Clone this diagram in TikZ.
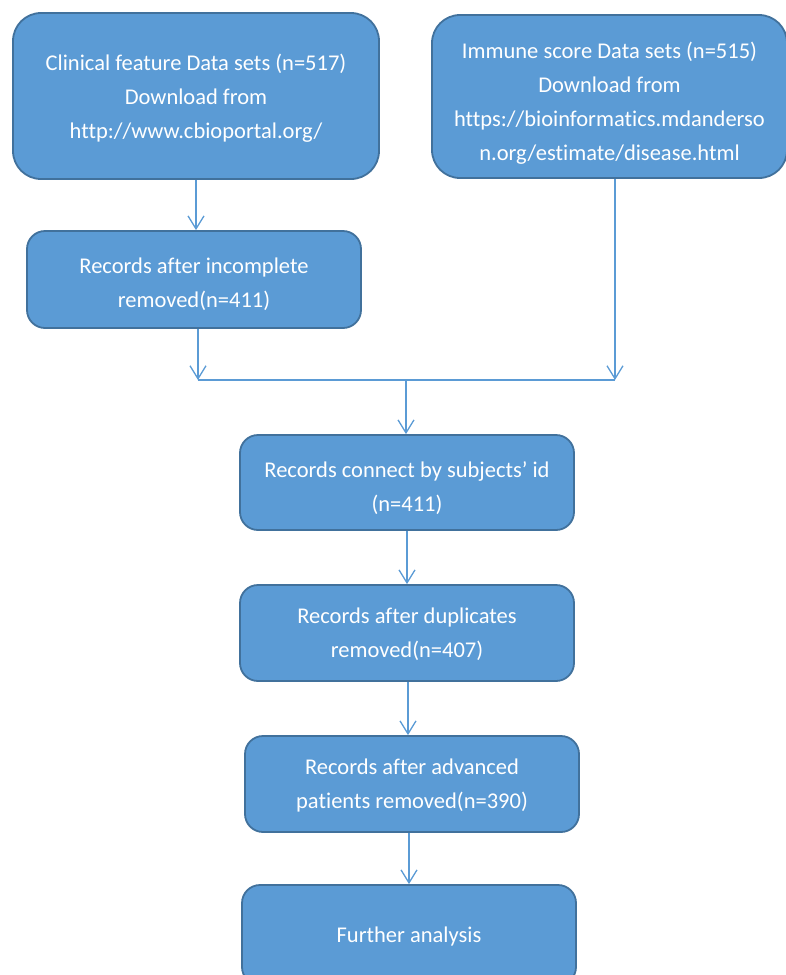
\documentclass[tikz,border=0pt]{standalone}
\usepackage{fontspec}
\setmainfont{Carlito}[Ligatures=NoCommon]
\usetikzlibrary{arrows.meta}
\definecolor{boxfill}{RGB}{91,155,213}
\definecolor{boxline}{RGB}{65,113,156}
\definecolor{linkline}{RGB}{91,155,213}
\begin{document}
\begin{tikzpicture}[x=1pt,y=-1pt,
		flowbox/.style={draw=boxline, line width=1.8pt, fill=boxfill, text=white, align=center,
			font=\fontsize{22.5}{34}\selectfont, inner sep=0pt, text depth=0pt},
		link/.style={draw=linkline, line width=1.3pt, -{Straight Barb[length=13pt,width=16pt,line width=1.3pt]}},
		plain/.style={draw=linkline, line width=1.3pt}]
			\clip (0,0) rectangle (786,975);
			\node	(a) at (196,96) [flowbox, minimum width=366pt, minimum height=166pt, rounded corners=28pt] {Clinical feature Data sets (n=517)\\Download from\\http://www.cbioportal.org/};
			\node	(b) at (609.5,96.5) [flowbox, minimum width=355pt, minimum height=163pt, rounded corners=28pt, text height=127pt] {Immune score Data sets (n=515)\\Download from\\https://bioinformatics.mdanderso\\n.org/estimate/disease.html};
			\node	(c) at (194,279.5) [flowbox, minimum width=334pt, minimum height=97pt, rounded corners=18pt, text height=55pt] {Records after incomplete\\removed(n=411)};
			\node	(d) at (407,482.5) [flowbox, minimum width=334pt, minimum height=95pt, rounded corners=18pt, text height=57pt] {Records connect by subjects’ id\\(n=411)};
			\node	(e) at (407,633) [flowbox, minimum width=334pt, minimum height=96pt, rounded corners=18pt] {Records after duplicates\\removed(n=407)};
			\node	(f) at (412,784) [flowbox, minimum width=334pt, minimum height=96pt, rounded corners=18pt] {Records after advanced\\patients removed(n=390)};
			\node	(g) at (409,935) [flowbox, minimum width=334pt, minimum height=100pt, rounded corners=18pt] {Further analysis};
			\coordinate (jl) at (198,380);
			\coordinate (jr) at (615,380);
			\coordinate (jm) at (406,380);
			\draw 
			(a.south) edge[link] (a.south |- c.north)
			(c.south -| jl) edge[link] (jl)
			(b.south -| jr) edge[link] (jr)
			(jl) edge[plain] (jr)
			(jm) edge[link] (jm |- d.north)
			(d.south) edge[link] (e.north)
			(e.south) ++(1,0) coordinate (es) edge[link] (es |- f.north)
			(f.south) ++(-3,0) coordinate (fs) edge[link] (fs |- g.north)
			;
		\end{tikzpicture}
\end{document}
